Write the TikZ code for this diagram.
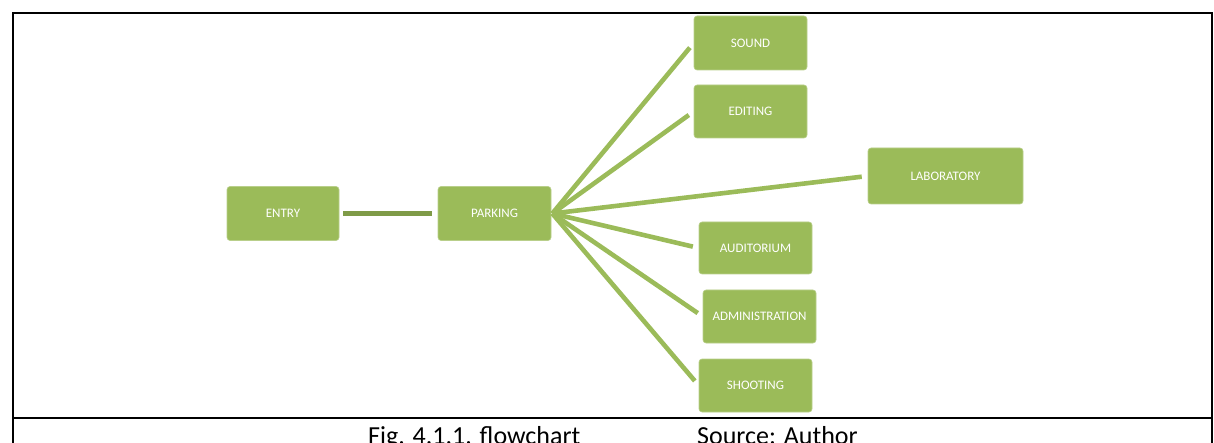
\documentclass[tikz,border=0pt]{standalone}
\usepackage{fontspec}
\setmainfont{Carlito}
\definecolor{boxgreen}{HTML}{9BBB59}
\definecolor{linkgreen}{HTML}{7F9B48}
\begin{document}
\begin{tikzpicture}[x=1pt,y=-1pt,
  box/.style={rectangle, rounded corners=3pt, fill=boxgreen, draw=boxgreen!70!white, line width=0.6pt,
    text=white, font=\fontsize{13}{15}\selectfont, inner sep=0pt, minimum width=113pt, minimum height=53pt},
  spoke/.style={draw=boxgreen, line width=4.6pt, shorten >=6pt},
  link/.style={draw=linkgreen, line width=5pt, shorten <=4pt, shorten >=6pt},
  frame/.style={draw=black, line width=2pt},
  caption/.style={anchor=base west, inner sep=0pt, font=\fontsize{26}{30}\selectfont}]
\useasboundingbox (0,0) rectangle (1214,443);
% frame
\coordinate (tl) at (13,13);
\coordinate (tr) at (1212,13);
\coordinate (bl) at (13,445);
\coordinate (br) at (1212,445);
\coordinate (ml) at (13,418);
\coordinate (mr) at (1212,418);
\draw[frame] (bl) -- (tl) -- (tr) -- (br);
\draw[frame] (ml) -- (mr);
% boxes
\node[box, minimum width=112pt, minimum height=54pt] (entry) at (283,213.5) {ENTRY};
\node[box, minimum height=54pt] (parking) at (494.5,213.5) {PARKING};
\node[box, minimum height=54pt] (sound) at (750.5,43) {SOUND};
\node[box] (editing) at (750.5,111.5) {EDITING};
\node[box, minimum width=155pt, minimum height=56pt] (lab) at (945.5,176) {LABORATORY};
\node[box, minimum height=52pt] (audi) at (755.5,248) {AUDITORIUM};
\node[box] (admin) at (759.5,316.5) {ADMINISTRATION};
\node[box] (shoot) at (755.5,385.5) {SHOOTING};
% connectors
\draw[link] (entry.east) -- (parking.west);
\foreach \t in {sound,editing,lab,audi,admin,shoot}
  \draw[spoke] ([xshift=1pt]parking.east) -- (\t.west);
% caption
\node[caption] (fig) at (368,444) {Fig. 4.1.1. flowchart};
\node[caption] (src) at (697,444) {Source: Author};
\end{tikzpicture}
\end{document}
